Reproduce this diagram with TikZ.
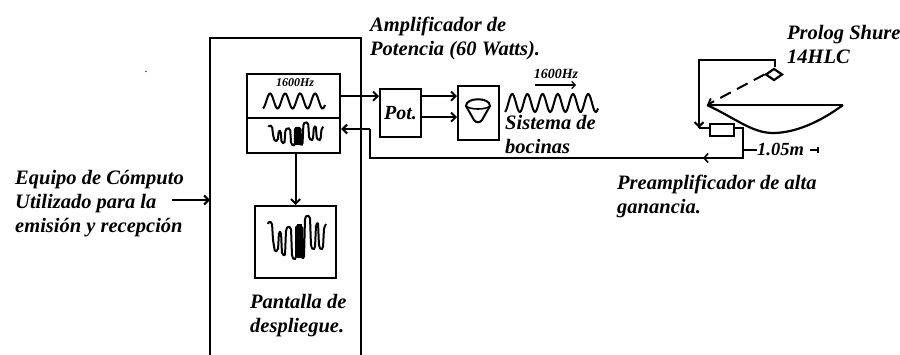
\documentclass[tikz,border=0pt]{standalone}
\usepackage{fontspec}
\setmainfont{Liberation Serif}
\usetikzlibrary{arrows.meta,calc,shapes.geometric}
\tikzset{
  x=1pt,y=-1pt,
  lbl/.style={font=\fontsize{20.5}{24}\selectfont\bfseries\itshape,align=left,inner sep=0pt,anchor=north west},
  blk/.style={draw,line width=2.2pt,inner sep=0pt,minimum width=0pt},
  wire/.style={line width=2pt},
  arr/.style={wire,-{Straight Barb[length=4.5pt,width=9pt,line width=2pt]}},
  squig/.style={line width=2pt,line join=round},
  wavy/.style={line width=2pt,smooth},
}
\newcommand{\pxbox}[5]{\node[blk,minimum width=#4 pt,minimum height=#5 pt,anchor=north west] (#1) at (#2,#3) {};}
\newcommand{\speechwave}{%
  \draw[squig,rounded corners=1.5pt] (268,224) -- (269,221) -- (272,223) -- (273,240) -- (275,252) -- (278,250) -- (279,232) -- (281,232) -- (282,254) -- (285,256) -- (286,230) -- (288,226) -- (291,228) -- (292,256) -- (294,260) -- (296,258) -- (296,226) -- (302,226) -- (302,258) -- (304,258) -- (305,218) -- (307,215) -- (310,217) -- (311,246) -- (313,250) -- (315,248) -- (316,225) -- (318,222) -- (319,246) -- (321,250) -- (323,248) -- (324,228) -- (326,224);
  \fill (296.5,224) rectangle (301.5,258);}
\begin{document}
\begin{tikzpicture}
\useasboundingbox (0,0) rectangle (900,355);
% outer computer frame
\coordinate (fbl) at (210,355); \coordinate (ftl) at (210,38);
\coordinate (ftr) at (361,38); \coordinate (fbr) at (361,355);
\draw[line width=2.5pt] (fbl) -- (ftl) -- (ftr) -- (fbr);
% boxes
\pxbox{top}{246}{73}{93}{44}
\pxbox{bot}{246}{117}{93}{35}
\pxbox{disp}{254}{205}{81}{72}
\pxbox{pot}{379}{88}{41}{48}
\pxbox{spk}{457}{85}{41}{54}
\node[blk,minimum width=24pt,minimum height=12pt,anchor=north west] (pre) at (709,123) {};
% waves
\draw[wavy] plot[domain=263:325,samples=70] (\x,{101-7.5*sin(deg((\x-263)*6.283/15-1.4))});
\node[font=\fontsize{12}{12}\selectfont\bfseries\itshape,inner sep=0pt] (f1) at (295,83) {1600Hz};
\begin{scope}[shift={(13.7,8)},xscale=0.95,yscale=0.53]
\speechwave
\end{scope}
\speechwave
\draw[wavy] plot[domain=505:598,samples=100] (\x,{103-9*sin(deg((\x-505)*6.283/15.2-1.4))});
% pot label
\node[font=\fontsize{20}{20}\selectfont\bfseries\itshape,inner sep=0pt] (potl) at (pot.center) {Pot.};
% speaker icon
\draw[line width=2pt] (466,106) .. controls (466,97) and (490,97) .. (490,106) -- (482,120) .. controls (480,123) and (476,123) .. (474,120) -- cycle;
\draw[line width=1.6pt] (466,106) .. controls (470,110) and (486,110) .. (490,106);
% connectors
\draw[arr] (top.east) -- (top.east -| pot.west);
\draw[arr] ($(pot.west)+(41,-17)$) -- ($(spk.west)+(0,-17)$);
\draw[arr] ($(pot.west)+(41,4)$) -- ($(spk.west)+(0,4)$);
\draw[arr] (bot.south -| disp.north) -- (disp.north);
% 1600Hz arrow
\coordinate (ha) at (535,85); \coordinate (hb) at (576,85);
\draw[line width=1.2pt,-{Straight Barb[length=3.5pt,width=7pt]}] (ha) -- (hb);
\node[font=\fontsize{14}{14}\selectfont\bfseries\itshape,inner sep=0pt] (f2) at (556,74) {1600Hz};
% return line
\coordinate (r1) at (743,158); \coordinate (r2) at (370,158); \coordinate (r3) at (370,129);
\coordinate (p1) at (743,128);
\draw[wire] (pre.east |- p1) -- (p1) -- (r1) -- (r2) -- (r3);
\draw[arr] (r3) -- (bot.east |- r3);
\draw[wire,-{Straight Barb[length=4pt,width=9pt,line width=1.6pt]}] (720,158) -- (703,158);
% mic
\coordinate (m1) at (775,60); \coordinate (m2) at (699,60); \coordinate (m4) at (699,128);
\node[draw,diamond,aspect=1.5,line width=2.2pt,inner sep=0pt,minimum width=17pt,minimum height=12pt] (mic) at (774,74.5) {};
\draw[wire] (mic.north -| m1) -- (m1) -- (m2) -- (m4);
\draw[arr] (m2) -- (m4);
\draw[wire] (m4) -- (pre.west |- m4);
\coordinate (d1) at (707,105); \coordinate (d2) at (843,105);
\draw[line width=2pt,dash pattern=on 12pt off 7pt,-{Straight Barb[length=5pt,width=8pt,line width=1.8pt]}] (mic.west) -- (d1);
% dish
\draw[line width=2pt] (d1) -- (d2);
\draw[line width=2.2pt] (d1) .. controls (735,118) and (752,133) .. (773,133) .. controls (795,133) and (820,122) .. (d2);
% dim
\node[font=\fontsize{18.5}{18.5}\selectfont\bfseries\itshape,inner sep=0pt,anchor=west] (dim) at (757,149) {1.05m};
\coordinate (t1) at (744,150); \coordinate (t2) at (810,150); \coordinate (t3) at (818,150);
\draw[line width=1.6pt] (t1) -- (dim.west |- t1);
\draw[line width=1.6pt] (t2) -- (t3);
\draw[line width=1.6pt] (t3) ++(0,-3) -- ++(0,6);
% labels
\node[lbl] (amp) at (370,16.5) {Amplificador de\\Potencia (60 Watts).};
\node[lbl] (prol) at (787,25) {Prolog Shure\\14HLC};
\node[lbl] (sis) at (505,115) {Sistema de\\bocinas};
\node[lbl] (prea) at (617,174.5) {Preamplificador de alta\\ganancia.};
\node[lbl] (equ) at (15,170) {Equipo de Cómputo\\Utilizado para la\\emisión y recepción};
\node[lbl] (pan) at (250,294) {Pantalla de\\despliegue.};
\coordinate (eqa) at (172,200);
\draw[arr] (eqa) -- (eqa -| ftl);
\node[font=\fontsize{12}{12}\selectfont,inner sep=0pt] (dot) at (146,72) {.};
\end{tikzpicture}
\end{document}
